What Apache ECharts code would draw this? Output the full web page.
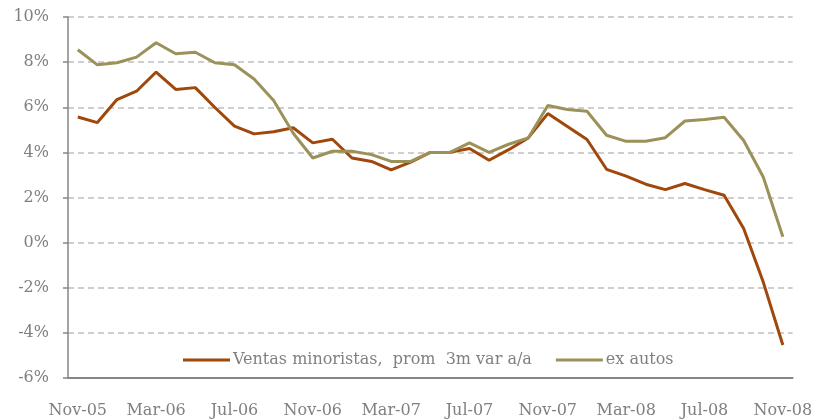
<!DOCTYPE html>
<html>
<head>
<meta charset="utf-8">
<script src="https://cdn.jsdelivr.net/npm/echarts@6/dist/echarts.min.js"></script>
<style>
  html, body { margin: 0; padding: 0; background: #fff; }
  #chart { width: 815px; height: 419px; }
</style>
</head>
<body>
<div id="chart"></div>
<script>
const months = [
  'Nov-05','Dec-05','Jan-06','Feb-06','Mar-06','Apr-06','May-06','Jun-06','Jul-06','Aug-06','Sep-06','Oct-06',
  'Nov-06','Dec-06','Jan-07','Feb-07','Mar-07','Apr-07','May-07','Jun-07','Jul-07','Aug-07','Sep-07','Oct-07',
  'Nov-07','Dec-07','Jan-08','Feb-08','Mar-08','Apr-08','May-08','Jun-08','Jul-08','Aug-08','Sep-08','Oct-08',
  'Nov-08'
]

// Ventas minoristas, prom 3m var a/a (%)
const ventas = [
  5.57, 5.32, 6.34, 6.71, 7.56, 6.79, 6.87, 5.99, 5.16, 4.82, 4.91, 5.09,
  4.42, 4.58, 3.75, 3.60, 3.22, 3.57, 4.00, 4.00, 4.17, 3.65, 4.12, 4.64,
  5.72, 5.15, 4.57, 3.25, 2.95, 2.59, 2.35, 2.62, 2.35, 2.10, 0.63, -1.75,
  -4.54
]

// ex autos (%)
const exAutos = [
  8.55, 7.88, 7.97, 8.22, 8.86, 8.37, 8.44, 7.97, 7.88, 7.25, 6.30, 4.85,
  3.75, 4.05, 4.05, 3.90, 3.60, 3.60, 4.00, 4.00, 4.42, 4.00, 4.36, 4.64,
  6.08, 5.90, 5.82, 4.76, 4.49, 4.49, 4.65, 5.39, 5.46, 5.56, 4.53, 2.91,
  0.26
]

const textColor = '#808080'
const font = 'DejaVu Serif'

let myChart = echarts.init(document.getElementById('chart'))

let option = {
  animation: false,
  grid: { left: 68, right: 18, top: 17, bottom: 41 },
  legend: {
    left: 178,
    top: 347,
    itemWidth: 47,
    itemHeight: 3,
    itemGap: 24,
    icon: 'rect',
    textStyle: { color: textColor, fontFamily: font, fontSize: 16, padding: [0, 0, 0, -2] },
    data: ['Ventas minoristas,  prom  3m var a/a', 'ex autos']
  },
  xAxis: {
    type: 'category',
    data: months,
    boundaryGap: true,
    axisLine: { onZero: false, lineStyle: { color: '#868686', width: 2 } },
    axisTick: { interval: 3, length: 6, lineStyle: { color: '#868686', width: 1.5 } },
    axisLabel: { interval: 3, color: textColor, fontFamily: font, fontSize: 16, margin: 25 },
    splitLine: { show: false }
  },
  yAxis: {
    type: 'value',
    min: -6,
    max: 10,
    interval: 2,
    axisLine: { show: true, lineStyle: { color: '#868686', width: 1.5 } },
    axisTick: { show: true, length: 5, lineStyle: { color: '#868686', width: 1.5 } },
    axisLabel: {
      color: textColor, fontFamily: font, fontSize: 16, margin: 19,
      formatter: v => v + '%'
    },
    splitLine: { lineStyle: { color: '#bfbfbf', width: 1.5, type: [6, 4] } }
  },
  series: [
    {
      name: 'Ventas minoristas,  prom  3m var a/a',
      type: 'line',
      data: ventas,
      showSymbol: false,
      symbol: 'none',
      itemStyle: { color: '#a0470b' },
      lineStyle: { color: '#a0470b', width: 3 },
      z: 3
    },
    {
      name: 'ex autos',
      type: 'line',
      data: exAutos,
      showSymbol: false,
      symbol: 'none',
      itemStyle: { color: '#9b9159' },
      lineStyle: { color: '#9b9159', width: 3 },
      z: 4
    }
  ]
}

myChart.setOption(option)
</script>
</body>
</html>
